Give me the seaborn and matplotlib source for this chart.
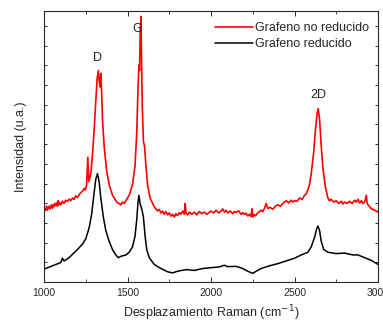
import numpy as np
import pandas as pd
import matplotlib
matplotlib.use("Agg")
import matplotlib.pyplot as plt
import seaborn as sns
from matplotlib.ticker import MultipleLocator, NullFormatter

# Raman spectra (arbitrary units, 0..1 of the axis height)
red_x = [1000, 1005, 1010, 1015, 1020, 1025, 1030, 1035, 1040, 1045, 1050, 1055, 1060,
         1065, 1070, 1075, 1080, 1085, 1090, 1095, 1100, 1110, 1120, 1130, 1140, 1150,
         1160, 1170, 1180, 1190, 1200, 1210, 1220, 1230, 1240, 1248, 1255, 1262, 1268,
         1280, 1290, 1300, 1310, 1318, 1325, 1330, 1336, 1340, 1345, 1350, 1360, 1375,
         1390, 1410, 1430, 1440, 1450, 1460, 1470, 1480, 1490, 1510, 1530, 1545, 1555,
         1562, 1568, 1572, 1576, 1580, 1583, 1588, 1595, 1602, 1610, 1620, 1635, 1650,
         1660, 1670, 1680, 1690, 1700, 1710, 1720, 1730, 1740, 1750, 1760, 1770, 1780,
         1790, 1800, 1810, 1820, 1830, 1840, 1845, 1850, 1860, 1870, 1885, 1900, 1915,
         1930, 1945, 1960, 1975, 2000, 2015, 2030, 2045, 2060, 2070, 2080, 2090, 2100,
         2115, 2130, 2140, 2150, 2165, 2180, 2190, 2200, 2210, 2220, 2230, 2240, 2245,
         2250, 2255, 2265, 2280, 2290, 2300, 2310, 2320, 2330, 2340, 2355, 2370, 2385,
         2400, 2415, 2430, 2440, 2450, 2465, 2480, 2490, 2500, 2515, 2530, 2545, 2560,
         2570, 2580, 2590, 2600, 2615, 2625, 2635, 2642, 2650, 2660, 2670, 2685, 2700,
         2710, 2720, 2735, 2750, 2765, 2780, 2790, 2800, 2815, 2830, 2845, 2860, 2870,
         2880, 2890, 2900, 2910, 2920, 2930, 2935, 2940, 2950, 2960, 2970, 2980, 2990,
         3000]
red_y = [0.26, 0.27, 0.265, 0.28, 0.265, 0.275, 0.28, 0.27, 0.275, 0.285, 0.272, 0.285,
         0.278, 0.29, 0.282, 0.292, 0.28, 0.30, 0.285, 0.293, 0.285, 0.298, 0.29, 0.302,
         0.297, 0.306, 0.3, 0.31, 0.305, 0.318, 0.312, 0.322, 0.33, 0.335, 0.345, 0.34,
         0.36, 0.46, 0.37, 0.40, 0.47, 0.56, 0.67, 0.75, 0.78, 0.74, 0.72, 0.77, 0.70,
         0.60, 0.50, 0.41, 0.36, 0.32, 0.30, 0.292, 0.29, 0.285, 0.295, 0.29, 0.30,
         0.32, 0.36, 0.43, 0.55, 0.70, 0.80, 0.78, 0.92, 0.98, 0.85, 0.65, 0.52, 0.50,
         0.43, 0.36, 0.31, 0.29, 0.278, 0.27, 0.262, 0.268, 0.255, 0.262, 0.25, 0.26,
         0.248, 0.255, 0.243, 0.25, 0.24, 0.252, 0.245, 0.256, 0.25, 0.262, 0.25, 0.29,
         0.255, 0.248, 0.258, 0.25, 0.258, 0.248, 0.26, 0.252, 0.258, 0.25, 0.262, 0.255,
         0.265, 0.255, 0.262, 0.27, 0.258, 0.265, 0.255, 0.262, 0.252, 0.26, 0.257, 0.263,
         0.25, 0.256, 0.25, 0.254, 0.244, 0.25, 0.242, 0.27, 0.24, 0.25, 0.244, 0.255,
         0.26, 0.265, 0.26, 0.272, 0.29, 0.272, 0.275, 0.268, 0.28, 0.285, 0.28, 0.29,
         0.295, 0.30, 0.292, 0.302, 0.295, 0.30, 0.298, 0.31, 0.305, 0.32, 0.325, 0.34,
         0.36, 0.40, 0.48, 0.56, 0.62, 0.64, 0.60, 0.50, 0.42, 0.35, 0.31, 0.3, 0.305,
         0.295, 0.30, 0.29, 0.298, 0.288, 0.295, 0.29, 0.298, 0.29, 0.302, 0.295, 0.305,
         0.292, 0.30, 0.29, 0.295, 0.32, 0.29, 0.285, 0.278, 0.27, 0.268, 0.265, 0.262,
         0.258]

black_x = [1000, 1050, 1100, 1110, 1120, 1150, 1200, 1230, 1250, 1270, 1285, 1300, 1310,
           1320, 1330, 1340, 1355, 1370, 1390, 1410, 1430, 1445, 1460, 1490, 1510, 1530,
           1545, 1555, 1562, 1568, 1575, 1585, 1595, 1605, 1615, 1630, 1660, 1700, 1740,
           1770, 1800, 1850, 1900, 1950, 2000, 2050, 2080, 2100, 2150, 2190, 2220, 2250,
           2270, 2300, 2350, 2400, 2450, 2500, 2540, 2580, 2600, 2620, 2632, 2640, 2650,
           2660, 2675, 2700, 2750, 2800, 2850, 2880, 2920, 2960, 3000]
black_y = [0.048, 0.06, 0.072, 0.088, 0.078, 0.09, 0.12, 0.14, 0.16, 0.20, 0.25, 0.33, 0.38,
           0.40, 0.37, 0.31, 0.24, 0.19, 0.15, 0.12, 0.10, 0.09, 0.095, 0.10, 0.11, 0.13,
           0.17, 0.23, 0.29, 0.32, 0.29, 0.27, 0.24, 0.17, 0.12, 0.09, 0.065, 0.05, 0.038,
           0.034, 0.04, 0.046, 0.043, 0.05, 0.053, 0.056, 0.062, 0.057, 0.058, 0.05, 0.04, 0.032,
           0.04, 0.05, 0.06, 0.068, 0.078, 0.088, 0.10, 0.11, 0.13, 0.165, 0.195, 0.207, 0.19,
           0.15, 0.12, 0.11, 0.105, 0.107, 0.10, 0.10, 0.09, 0.08, 0.065]

peak_names = ["D", "G", "2D"]
peak_pos = [1320, 1560, 2640]
peak_lab_y = [0.825, 0.935, 0.69]

x_ticks = [1000, 1500, 2000, 2500, 3000]

sns.set_style("ticks")
plt.rcParams['font.family'] = ['Liberation Sans', 'DejaVu Sans']

red = pd.DataFrame({"x": red_x, "y": red_y})
black = pd.DataFrame({"x": black_x, "y": black_y})

fig = plt.figure(figsize=(3.83, 3.22), dpi=100)
ax = fig.add_axes([0.115, 0.124, 0.872, 0.842])

sns.lineplot(data=red, x="x", y="y", color="#ff0000", linewidth=1.2,
             label="Grafeno no reducido", ax=ax)
sns.lineplot(data=black, x="x", y="y", color="black", linewidth=1.1,
             label="Grafeno reducido", ax=ax)

for name, px, py in zip(peak_names, peak_pos, peak_lab_y):
    ax.text(px, py, name, ha="center", va="center", fontsize=9)

ax.set_xlim(1000, 3000)
ax.set_ylim(0, 1)
ax.set_xticks(x_ticks)
ax.xaxis.set_minor_locator(MultipleLocator(250))
ax.yaxis.set_major_locator(MultipleLocator(0.0727))
ax.yaxis.set_major_formatter(NullFormatter())
ax.tick_params(direction="in", top=True, right=True, length=3.5, width=0.7,
               labelsize=7.5, pad=4)
ax.tick_params(which="minor", direction="in", top=True, length=2, width=0.6)
ax.tick_params(axis="y", length=2.5)
for s in ax.spines.values():
    s.set_linewidth(0.8)

ax.set_xlabel("Desplazamiento Raman (cm$^{-1}$)", fontsize=9, labelpad=4)
ax.set_ylabel("Intensidad (u.a.)", fontsize=9, labelpad=8)

ax.legend(loc="upper right", frameon=False, fontsize=9, handlelength=3.0,
          handletextpad=0.2, labelspacing=0.3, borderaxespad=0.3,
          bbox_to_anchor=(1.0, 0.99))

fig.savefig("out.png", dpi=100)
